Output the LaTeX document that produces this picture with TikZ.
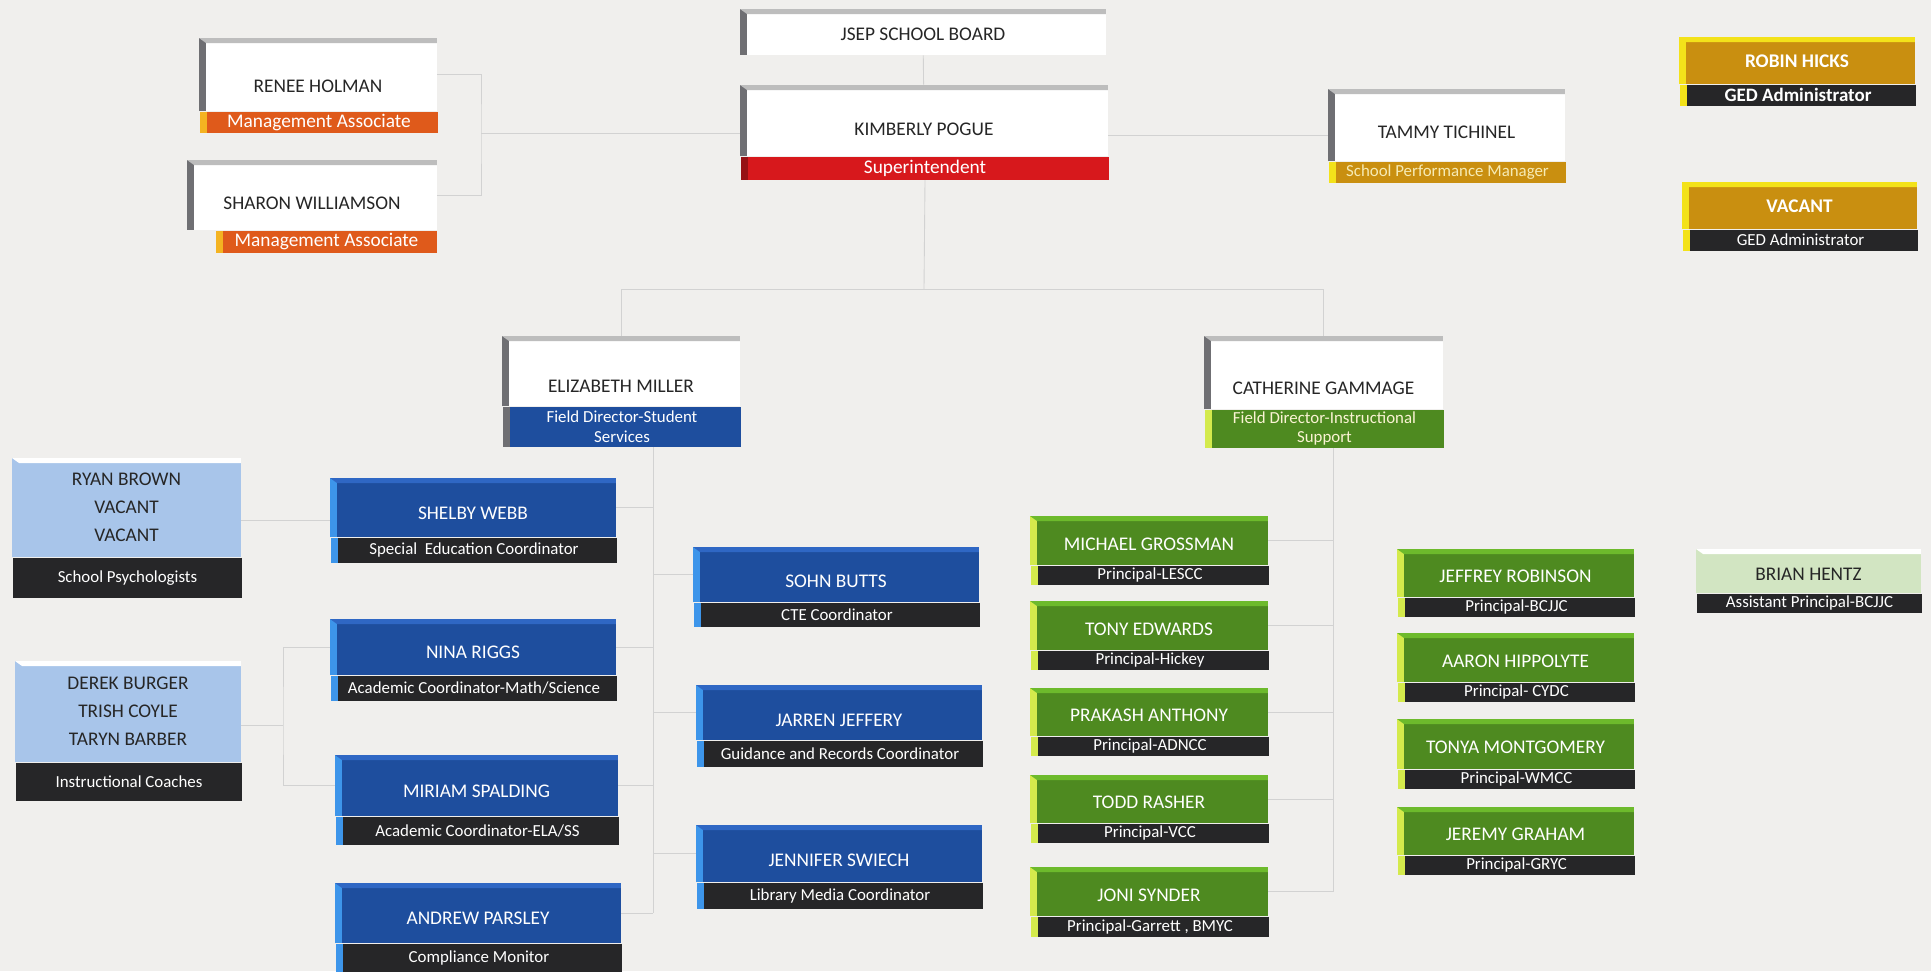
\documentclass[tikz,border=0pt]{standalone}
\usepackage{fontspec}
\setmainfont{Carlito}
\usetikzlibrary{positioning}
\usepackage{xcolor}

\definecolor{paper}{HTML}{F0EFED}
\definecolor{linegray}{HTML}{D2D2D2}
\definecolor{sidegray}{HTML}{6F6F73}
\definecolor{topgray}{HTML}{BDBDBD}
\definecolor{supred}{HTML}{D7181C}
\definecolor{mgmtorange}{HTML}{DF5A1B}
\definecolor{mgmtside}{HTML}{F4B321}
\definecolor{gold}{HTML}{C98F10}
\definecolor{goldside}{HTML}{F3E21A}
\definecolor{goldtext}{HTML}{F6EBB5}
\definecolor{bandgray}{HTML}{262628}
\definecolor{navy}{HTML}{1E4E9E}
\definecolor{navytop}{HTML}{2F67C4}
\definecolor{navyside}{HTML}{3D95EA}
\definecolor{paleblue}{HTML}{A8C5EA}
\definecolor{leaf}{HTML}{4E8A20}
\definecolor{leaftop}{HTML}{6DBA2C}
\definecolor{leafside}{HTML}{D4EA4C}
\definecolor{mint}{HTML}{D2E5C2}

\begin{document}
\begin{tikzpicture}[x=0.02cm, y=-0.02cm]
        \tikzset{face/.style n args={3}{fill=#1, path picture={
            \fill[#2] (path picture bounding box.north west) rectangle ([xshift=0.14cm]path picture bounding box.south west);
            \fill[#3] (path picture bounding box.north west) -- (path picture bounding box.north east) -- ([yshift=-0.1cm]path picture bounding box.north east) -- ([xshift=0.14cm,yshift=-0.1cm]path picture bounding box.north west) -- cycle;}},
          band/.style={rectangle, inner sep=0pt, fill=bandgray, text=white, align=center,
            font=\fontsize{9.6}{11}\selectfont, path picture={
            \fill[#1] (path picture bounding box.north west) rectangle ([xshift=0.14cm]path picture bounding box.south west);}}}
        \tikzstyle{box} = [rectangle, inner sep=0pt, align=center, font=\fontsize{11}{13}\selectfont, text depth=0pt]
        \tikzstyle{whitebox} = [box, face={white}{sidegray}{topgray}, text=black!85, text height=16.5pt]
        \tikzstyle{bluebox} = [box, face={navy}{navyside}{navytop}, text=white, minimum width=5.72cm, text height=13.5pt]
        \tikzstyle{greenbox} = [box, face={leaf}{leafside}{leaftop}, text=white, text height=11pt]
        \tikzstyle{goldbox} = [box, face={gold}{goldside}{goldside}, text=white, font=\fontsize{11}{13}\selectfont\bfseries, text height=8pt]
        \tikzstyle{conn} = [draw=linegray, line width=0.5pt]

        \useasboundingbox (0,0) rectangle (1931,971);
        \fill[paper] (0,0) rectangle (1931,971);

        % top of the chart
        \node[whitebox, minimum width=7.32cm, minimum height=0.92cm, text height=9.5pt] (board) at (923,32) {JSEP SCHOOL BOARD};
        \node[whitebox, minimum width=7.36cm, minimum height=1.42cm] (pogue) at (924,120.5) {KIMBERLY POGUE};
        \node[band=supred!70!black, fill=supred, minimum width=7.38cm, minimum height=0.46cm, font=\fontsize{11}{12}\selectfont, below=0pt of pogue, xshift=0.02cm] (pogueR) {Superintendent};

        \node[whitebox, minimum width=4.76cm, minimum height=1.46cm, text height=20pt] (holman) at (318,74.5) {RENEE HOLMAN};
        \node[band=mgmtside, fill=mgmtorange, minimum width=4.78cm, minimum height=0.42cm, font=\fontsize{11}{12}\selectfont, below=0pt of holman, xshift=0.02cm] (holmanR) {Management Associate};
        \node[whitebox, minimum width=5cm, minimum height=1.4cm] (williamson) at (312,195) {SHARON WILLIAMSON};
        \node[band=mgmtside, fill=mgmtorange, minimum width=4.42cm, minimum height=0.44cm, font=\fontsize{11}{12}\selectfont, below=0pt of williamson, xshift=0.29cm] (williamsonR) {Management Associate};

        \node[whitebox, minimum width=4.74cm, minimum height=1.44cm, text height=15.5pt] (tichinel) at (1446.5,125) {TAMMY TICHINEL};
        \node[band=goldside, fill=gold, text=goldtext, minimum width=4.76cm, minimum height=0.42cm, below=0pt of tichinel, xshift=0.02cm] (tichinelR) {School Performance Manager};

        \node[goldbox, minimum width=4.72cm, minimum height=0.94cm] (hicks) at (1797,60.5) {ROBIN HICKS};
        \node[band=goldside, minimum width=4.74cm, minimum height=0.42cm, font=\fontsize{10.8}{12}\selectfont\bfseries, below=0pt of hicks, xshift=0.02cm] (hicksR) {GED Administrator};
        \node[goldbox, minimum width=4.7cm, minimum height=0.94cm] (vacantged) at (1799.5,205.5) {VACANT};
        \node[band=goldside, minimum width=4.72cm, minimum height=0.42cm, below=0pt of vacantged, xshift=0.02cm] (vacantgedR) {GED Administrator};

        % field directors
        \node[whitebox, minimum width=4.76cm, minimum height=1.4cm, text height=25pt] (miller) at (621,371) {ELIZABETH MILLER};
        \node[band=sidegray, fill=navy, minimum width=4.78cm, minimum height=0.8cm, below=0pt of miller, xshift=0.02cm] (millerR) {Field Director-Student\\Services};
        \node[whitebox, minimum width=4.78cm, minimum height=1.46cm, text height=25pt] (gammage) at (1323.5,372.5) {CATHERINE GAMMAGE};
        \node[band=leafside, fill=leaf, text=goldtext!60!white, minimum width=4.8cm, minimum height=0.76cm, below=0pt of gammage, xshift=0.02cm] (gammageR) {Field Director-Instructional\\Support};

        % student services
        \node[box, face={paleblue}{paleblue}{white}, text=black!85, font=\fontsize{11}{16}\selectfont, minimum width=4.58cm, minimum height=1.98cm] (psych) at (126.5,507.5) {RYAN BROWN\\VACANT\\VACANT};
        \node[band=bandgray, minimum width=4.6cm, minimum height=0.8cm, below=0pt of psych, xshift=0.02cm] (psychR) {School Psychologists};
        \node[box, face={paleblue}{paleblue}{white}, text=black!85, font=\fontsize{11}{16}\selectfont, minimum width=4.52cm, minimum height=2.02cm] (coaches) at (128,711.5) {DEREK BURGER\\TRISH COYLE\\TARYN BARBER};
        \node[band=bandgray, minimum width=4.54cm, minimum height=0.76cm, below=0pt of coaches, xshift=0.02cm] (coachesR) {Instructional Coaches};

        \node[bluebox, minimum height=1.18cm] (webb) at (473,507.5) {SHELBY WEBB};
        \node[band=navyside, minimum width=5.74cm, minimum height=0.5cm, below=0pt of webb, xshift=0.02cm] (webbR) {Special\ \ Education Coordinator};
        \node[bluebox, minimum height=1.12cm] (riggs) at (473,647) {NINA RIGGS};
        \node[band=navyside, minimum width=5.74cm, minimum height=0.5cm, below=0pt of riggs, xshift=0.02cm] (riggsR) {Academic Coordinator-Math/Science};
        \node[bluebox, minimum width=5.66cm, minimum height=1.22cm] (spalding) at (476.5,785.5) {MIRIAM SPALDING};
        \node[band=navyside, minimum width=5.68cm, minimum height=0.56cm, below=0pt of spalding, xshift=0.02cm] (spaldingR) {Academic Coordinator-ELA/SS};
        \node[bluebox, minimum height=1.2cm] (parsley) at (478,913) {ANDREW PARSLEY};
        \node[band=navyside, minimum width=5.74cm, minimum height=0.56cm, below=0pt of parsley, xshift=0.02cm] (parsleyR) {Compliance Monitor};

        \node[bluebox, minimum height=1.1cm, text height=15pt] (butts) at (836,574.5) {SOHN BUTTS};
        \node[band=navyside, minimum width=5.74cm, minimum height=0.48cm, below=0pt of butts, xshift=0.02cm] (buttsR) {CTE Coordinator};
        \node[bluebox, minimum height=1.1cm, text height=15.5pt] (jeffery) at (839,712.5) {JARREN JEFFERY};
        \node[band=navyside, minimum width=5.74cm, minimum height=0.52cm, below=0pt of jeffery, xshift=0.02cm] (jefferyR) {Guidance and Records Coordinator};
        \node[bluebox, minimum height=1.14cm, text height=15pt] (swiech) at (839,853.5) {JENNIFER SWIECH};
        \node[band=navyside, minimum width=5.74cm, minimum height=0.52cm, below=0pt of swiech, xshift=0.02cm] (swiechR) {Library Media Coordinator};

        % instructional support
        \node[greenbox, minimum width=4.76cm, minimum height=0.98cm] (grossman) at (1149,540.5) {MICHAEL GROSSMAN};
        \node[band=leafside, minimum width=4.78cm, minimum height=0.38cm, below=0pt of grossman, xshift=0.02cm] (grossmanR) {Principal-LESCC};
        \node[greenbox, minimum width=4.76cm, minimum height=0.98cm] (edwards) at (1149,625.5) {TONY EDWARDS};
        \node[band=leafside, minimum width=4.78cm, minimum height=0.38cm, below=0pt of edwards, xshift=0.02cm] (edwardsR) {Principal-Hickey};
        \node[greenbox, minimum width=4.76cm, minimum height=0.96cm] (anthony) at (1149,712) {PRAKASH ANTHONY};
        \node[band=leafside, minimum width=4.78cm, minimum height=0.38cm, below=0pt of anthony, xshift=0.02cm] (anthonyR) {Principal-ADNCC};
        \node[greenbox, minimum width=4.76cm, minimum height=0.96cm] (rasher) at (1149,799) {TODD RASHER};
        \node[band=leafside, minimum width=4.78cm, minimum height=0.38cm, below=0pt of rasher, xshift=0.02cm] (rasherR) {Principal-VCC};
        \node[greenbox, minimum width=4.76cm, minimum height=0.98cm] (synder) at (1149,891.5) {JONI SYNDER};
        \node[band=leafside, minimum width=4.78cm, minimum height=0.4cm, below=0pt of synder, xshift=0.02cm] (synderR) {Principal-Garrett , BMYC};

        \node[greenbox, minimum width=4.74cm, minimum height=0.96cm] (robinson) at (1515.5,573) {JEFFREY ROBINSON};
        \node[band=leafside, minimum width=4.76cm, minimum height=0.38cm, below=0pt of robinson, xshift=0.02cm] (robinsonR) {Principal-BCJJC};
        \node[greenbox, minimum width=4.74cm, minimum height=0.98cm] (hippolyte) at (1515.5,657.5) {AARON HIPPOLYTE};
        \node[band=leafside, minimum width=4.76cm, minimum height=0.38cm, below=0pt of hippolyte, xshift=0.02cm] (hippolyteR) {Principal- CYDC};
        \node[greenbox, minimum width=4.74cm, minimum height=1cm] (montgomery) at (1515.5,744) {TONYA MONTGOMERY};
        \node[band=leafside, minimum width=4.76cm, minimum height=0.38cm, below=0pt of montgomery, xshift=0.02cm] (montgomeryR) {Principal-WMCC};
        \node[greenbox, minimum width=4.74cm, minimum height=0.96cm] (graham) at (1515.5,831) {JEREMY GRAHAM};
        \node[band=leafside, minimum width=4.76cm, minimum height=0.38cm, below=0pt of graham, xshift=0.02cm] (grahamR) {Principal-GRYC};

        \node[box, face={mint}{mint}{white}, text=black!85, text height=11pt, minimum width=4.5cm, minimum height=0.88cm] (hentz) at (1808.5,571) {BRIAN HENTZ};
        \node[band=bandgray, minimum width=4.52cm, minimum height=0.38cm, below=0pt of hentz, xshift=0.02cm] (hentzR) {Assistant Principal-BCJJC};

        % connectors
        \coordinate (mgmt) at (481,133);
        \coordinate (fork) at (924,289);
        \coordinate (sspine) at (653,913);
        \coordinate (cb) at (283,725);
        \coordinate (ispine) at (1333,892);

        \draw[conn] (board) -- (pogue);
        \draw[conn] (holman.east) -| (mgmt) |- (williamson.east);
        \draw[conn] (mgmt) -- (mgmt -| pogue.west);
        \draw[conn] (pogue.east |- 0,135) -- (tichinel.west |- 0,135);
        \draw[conn] (pogueR.south) -- (fork);
        \draw[conn] (miller.north) |- (fork -| gammage.north) -- (gammage.north);

        \draw[conn] (millerR.south -| sspine) -- (sspine);
        \foreach \p in {webb,riggs,spalding,parsley,butts,jeffery,swiech}
          \draw[conn] (\p) -- (\p -| sspine);
        \draw[conn] (psych.east |- 0,520) -- (webb.west |- 0,520);
        \draw[conn] (riggs) -| (cb) |- (spalding);
        \draw[conn] (coaches.east |- cb) -- (cb);

        \draw[conn] (gammageR.south -| ispine) -- (ispine);
        \foreach \p in {grossman,edwards,anthony,rasher,synder}
          \draw[conn] (\p) -- (\p -| ispine);
      \end{tikzpicture}
\end{document}
